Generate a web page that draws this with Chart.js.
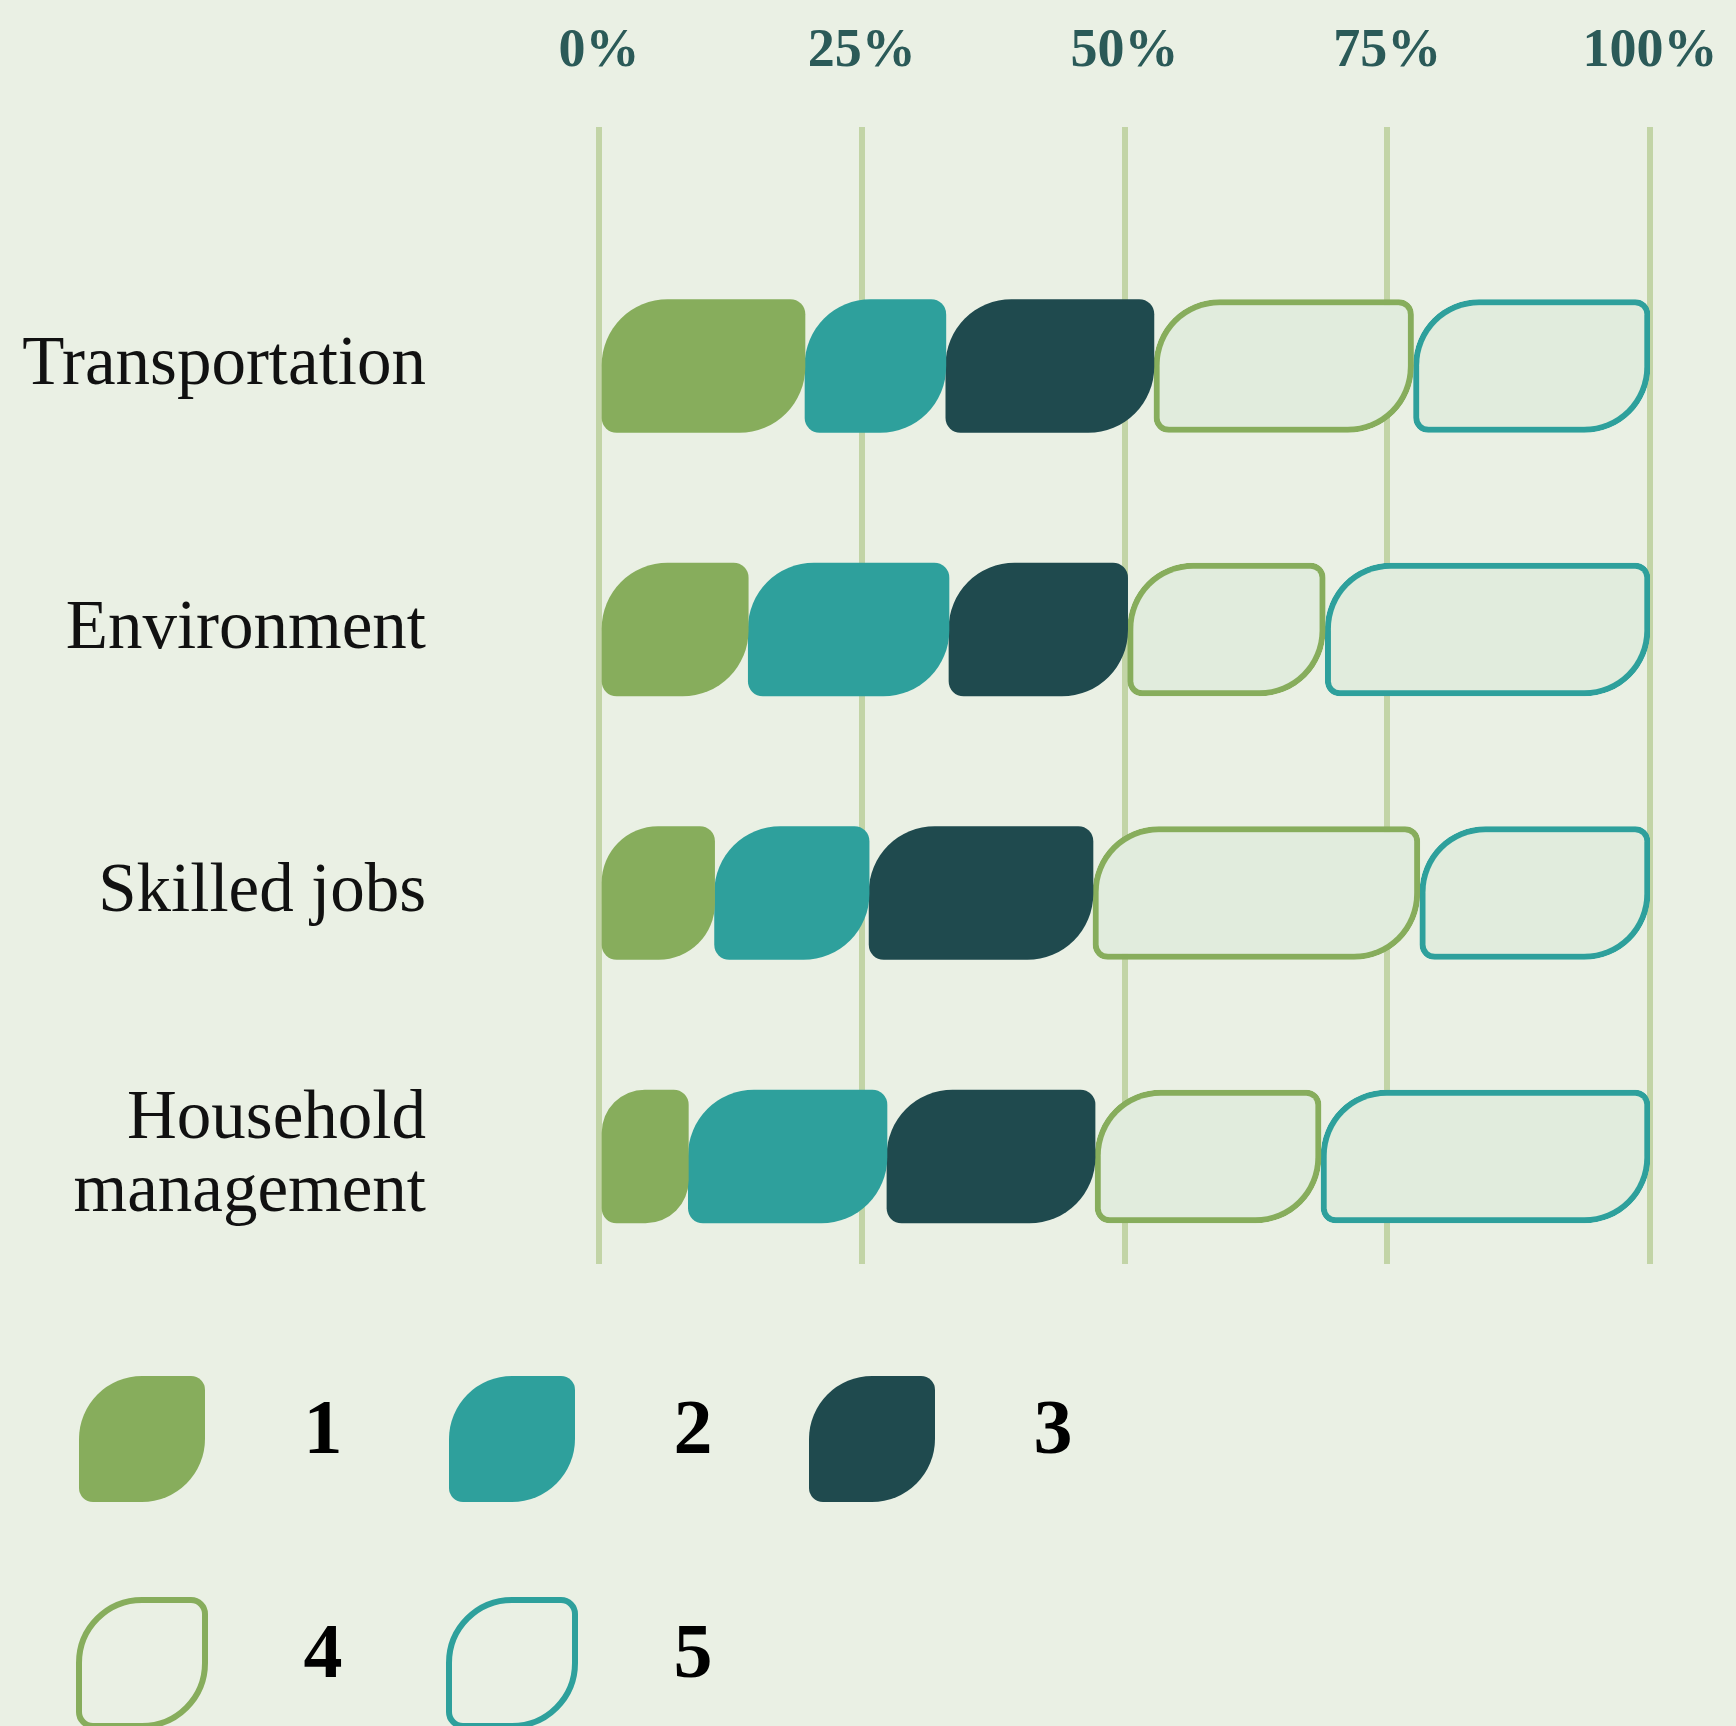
<!DOCTYPE html>
<html>
<head>
<meta charset="utf-8">
<script src="https://cdn.jsdelivr.net/npm/chart.js@4.4.1/dist/chart.umd.min.js"></script>
<style>
  html, body { margin: 0; padding: 0; background: #eaf0e4; }
  #wrap { width: 1736px; height: 1726px; }
</style>
</head>
<body>
<div id="wrap"><canvas id="ratingChart" width="1736" height="1726"></canvas></div>
<script>
const categories = ['Transportation', 'Environment', 'Skilled jobs', ['Household', 'management']];
const ratingLabels = ['1', '2', '3', '4', '5'];
const rating1 = [19.6, 14.2, 11.0, 8.5];
const rating2 = [13.4, 19.1, 14.7, 18.9];
const rating3 = [19.8, 17.0, 21.3, 19.8];
const rating4 = [24.7, 18.8, 31.1, 21.5];
const rating5 = [22.5, 30.9, 21.9, 31.3];
const xTicks = [0, 25, 50, 75, 100];

const BG = '#eaf0e4';
const GREEN = '#87ad5c';
const TEAL = '#2ea09c';
const DARK = '#1f4a4e';
const PALE = '#e1ecdd';

// leaf shape: big round corners top-left / bottom-right, small on the others
const leaf = { topLeft: 66, topRight: 15, bottomRight: 66, bottomLeft: 15 };

function toPoints(values) {
  return values.map((v, i) => ({ x: v, y: i }));
}

function makeDataset(label, values, fill, stroke, width) {
  return {
    label,
    data: toPoints(values),
    backgroundColor: fill,
    borderColor: stroke,
    borderWidth: width,
    borderSkipped: false,
    borderRadius: leaf,
    barThickness: 133
  };
}

// the big tick paddings would otherwise push the plot area inwards
function noEdgePadding(s) {
  s.paddingLeft = 0;
  s.paddingRight = 0;
  s.paddingTop = 0;
  s.paddingBottom = 0;
}

// legend drawn as a 3-column grid under the plot
const swatchLegend = {
  id: 'swatchLegend',
  afterDraw(chart) {
    const ctx = chart.ctx;
    const cols = [79, 449, 809];
    const rows = [1376, 1600];
    const size = 126;
    ctx.save();
    chart.data.datasets.forEach((ds, i) => {
      const x = cols[i % 3];
      const y = rows[Math.floor(i / 3)];
      ctx.beginPath();
      Chart.helpers.addRoundedRectPath(ctx, {
        x, y, w: size, h: size,
        radius: { topLeft: 63, topRight: 14, bottomRight: 63, bottomLeft: 14 }
      });
      if (ds.borderWidth > 0) {
        ctx.fillStyle = BG;
        ctx.fill();
        ctx.lineWidth = ds.borderWidth;
        ctx.strokeStyle = ds.borderColor;
        ctx.stroke();
      } else {
        ctx.fillStyle = ds.backgroundColor;
        ctx.fill();
      }
      ctx.fillStyle = '#000';
      ctx.font = 'bold 78px "Liberation Serif", serif';
      ctx.textAlign = 'center';
      ctx.textBaseline = 'middle';
      ctx.fillText(ds.label, x + 244, y + size / 2 - 6);
    });
    ctx.restore();
  }
};

new Chart(document.getElementById('ratingChart'), {
  type: 'bar',
  data: {
    datasets: [
      makeDataset(ratingLabels[0], rating1, GREEN, GREEN, 0),
      makeDataset(ratingLabels[1], rating2, TEAL, TEAL, 0),
      makeDataset(ratingLabels[2], rating3, DARK, DARK, 0),
      makeDataset(ratingLabels[3], rating4, PALE, GREEN, 6),
      makeDataset(ratingLabels[4], rating5, PALE, TEAL, 6)
    ]
  },
  options: {
    indexAxis: 'y',
    responsive: false,
    animation: false,
    layout: { padding: { top: 0, left: 0, right: 86, bottom: 462 } },
    plugins: {
      legend: { display: false },
      tooltip: { enabled: false }
    },
    scales: {
      x: {
        type: 'linear',
        position: 'top',
        stacked: true,
        min: 0,
        max: 100,
        afterFit: s => { s.height = 127; noEdgePadding(s); },
        afterBuildTicks: s => { s.ticks = xTicks.map(v => ({ value: v })); },
        grid: { color: '#c2d4a6', lineWidth: 6, drawTicks: false },
        border: { display: false },
        ticks: {
          padding: 48,
          color: '#2b5a58',
          font: { family: '"Liberation Serif", serif', size: 54, weight: 'bold', lineHeight: 1 },
          callback: v => v + '%'
        }
      },
      y: {
        type: 'linear',
        stacked: true,
        reverse: true,
        offset: false,
        min: -0.907,
        max: 3.408,
        afterFit: s => { s.width = 599; noEdgePadding(s); },
        afterBuildTicks: s => { s.ticks = categories.map((c, i) => ({ value: i })); },
        grid: { display: false, drawTicks: false },
        border: { display: false },
        ticks: {
          padding: 173,
          color: '#111',
          font: { family: '"Liberation Serif", serif', size: 69, lineHeight: 1.06 },
          callback: v => categories[v]
        }
      }
    }
  },
  plugins: [swatchLegend]
});
</script>
</body>
</html>
